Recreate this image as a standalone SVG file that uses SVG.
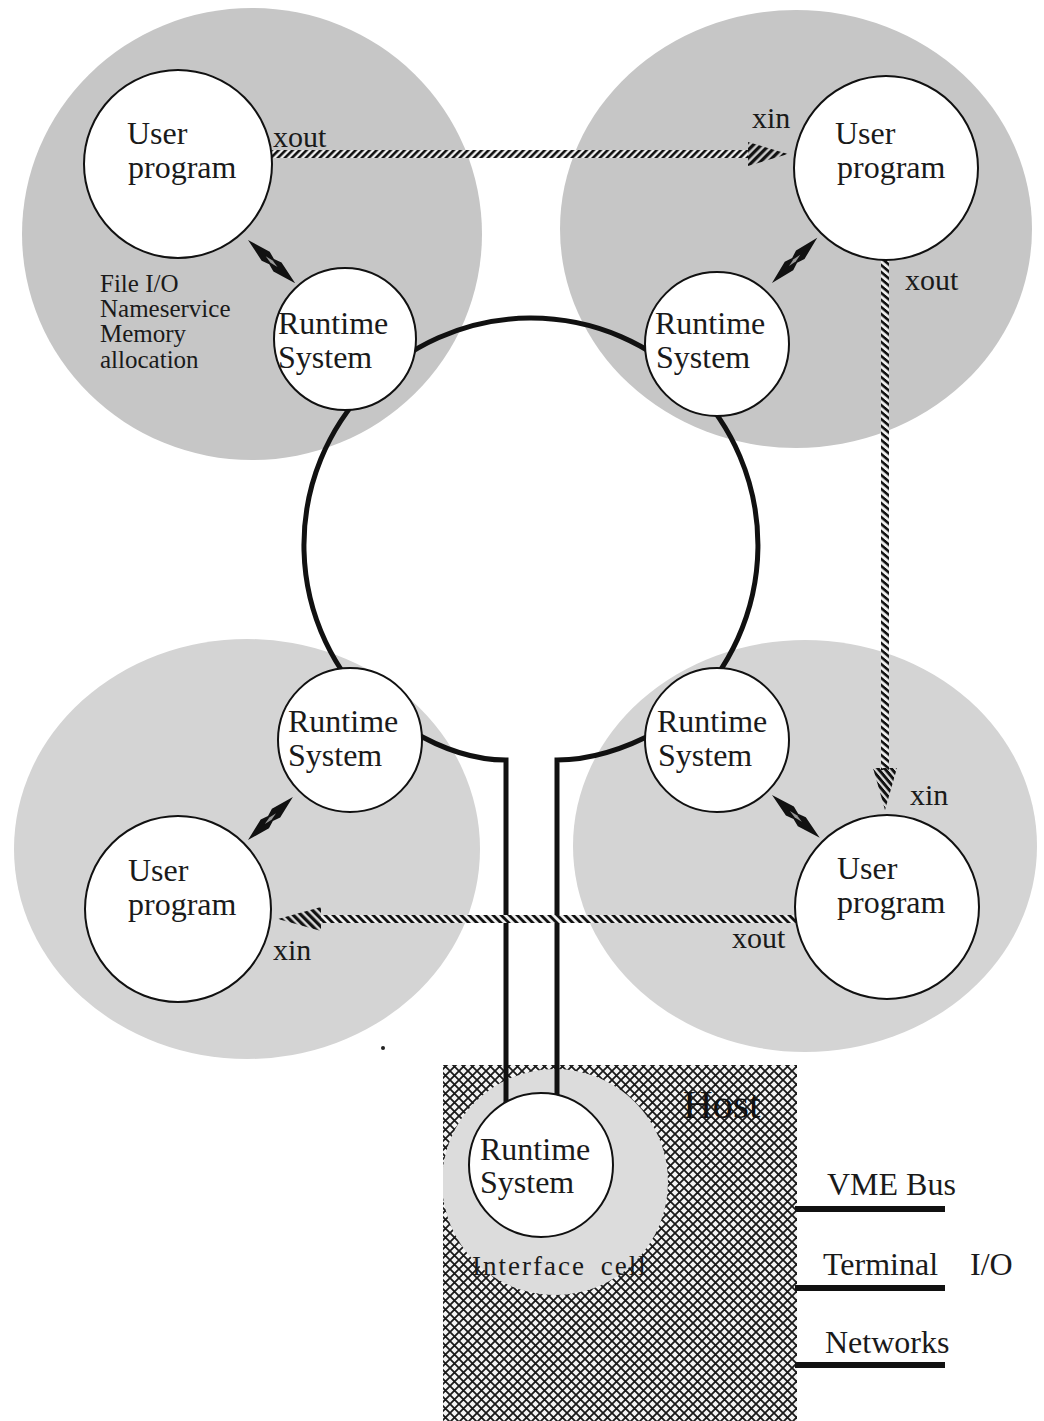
<svg xmlns="http://www.w3.org/2000/svg" xmlns:xlink="http://www.w3.org/1999/xlink" width="1044" height="1421" viewBox="0 0 1044 1421">
<style>
.lbl{font-family:"Liberation Serif","Times New Roman",serif;font-size:32px;fill:#1a1a1a}
.x{font-family:"Liberation Serif","Times New Roman",serif;font-size:30px;fill:#1a1a1a}
.sm{font-family:"Liberation Serif","Times New Roman",serif;font-size:25px;fill:#1a1a1a}
.node{fill:#fff;stroke:#111;stroke-width:2}
.wire{fill:none;stroke:#111;stroke-width:5}
.bus{stroke:#111;stroke-width:6}
</style>
<defs>
<pattern id="hf" width="7" height="10" patternUnits="userSpaceOnUse" patternTransform="skewX(-45)"><rect width="3.6" height="10" fill="#111"/></pattern>
<pattern id="hb" width="8" height="10" patternUnits="userSpaceOnUse" patternTransform="skewX(45)"><rect width="4" height="10" fill="#111"/></pattern>
<pattern id="hv" width="10" height="7" patternUnits="userSpaceOnUse" patternTransform="skewY(40)"><rect width="10" height="3.4" fill="#111"/></pattern>
<pattern id="hfa" width="8" height="10" patternUnits="userSpaceOnUse" patternTransform="skewX(-45)"><rect width="4.5" height="10" fill="#111"/></pattern>
<pattern id="hba" width="8" height="10" patternUnits="userSpaceOnUse" patternTransform="skewX(45)"><rect width="4.5" height="10" fill="#111"/></pattern>
<pattern id="hva" width="10" height="8" patternUnits="userSpaceOnUse" patternTransform="skewY(50)"><rect width="10" height="4.5" fill="#111"/></pattern>
<pattern id="xh" width="9" height="9" patternUnits="userSpaceOnUse"><rect width="9" height="9" fill="#f4f4f4"/><path d="M0,0 L9,9 M9,0 L0,9" stroke="#1a1a1a" stroke-width="1.8"/></pattern>
<clipPath id="hostclip"><rect x="443" y="1065" width="354" height="356"/></clipPath>
<g id="dbl"><path d="M0,0 L24,-6 L32,-3.5 L40,-6 L64,0 L40,6 L32,3.5 L24,6 Z" fill="#111"/><path d="M24,0 L32,-1.6 L40,0 L32,1.6 Z" fill="#999"/></g>
</defs>

<g id="cells">
<ellipse id="cell-tl" cx="252" cy="234" rx="230" ry="226" fill="#c6c6c6"/>
<ellipse id="cell-tr" cx="796" cy="229" rx="236" ry="219" fill="#c6c6c6"/>
<ellipse id="cell-bl" cx="247" cy="849" rx="233" ry="210" fill="#d4d4d4"/>
<ellipse id="cell-br" cx="805" cy="846" rx="232" ry="206" fill="#d4d4d4"/>
</g>

<g id="host">
<rect x="443" y="1065" width="354" height="356" fill="url(#xh)"/>
<circle cx="555" cy="1182" r="113" fill="#dcdcdc" clip-path="url(#hostclip)"/>
<text x="683" y="1118" font-family="Liberation Serif, Times New Roman, serif" font-size="41" fill="#111">Host</text>
<text x="472" y="1275" font-family="Liberation Serif, Times New Roman, serif" font-size="27" letter-spacing="2" word-spacing="6" fill="#1a1a1a">Interface cell</text>
</g>

<g id="connectors">
<path class="wire" d="M 688 709 A 227 227 0 1 0 376 711"/>
<path class="wire" d="M 410 730 Q 460 760 506 760 L 506 1110"/>
<path class="wire" d="M 660 730 Q 605 760 557 760 L 557 1110"/>
<line class="bus" x1="795" y1="1209" x2="945" y2="1209"/>
<line class="bus" x1="795" y1="1288" x2="945" y2="1288"/>
<line class="bus" x1="795" y1="1365" x2="945" y2="1365"/>
<rect x="272" y="150" width="476" height="8" fill="#eee"/>
<rect x="272" y="150" width="476" height="8" fill="url(#hf)"/>
<polygon points="748,142 788,154 748,166" fill="url(#hfa)"/>
<rect x="881" y="258" width="8" height="512" fill="#eee"/>
<rect x="881" y="258" width="8" height="512" fill="url(#hv)"/>
<polygon points="873,768 897,768 885,810" fill="url(#hva)"/>
<rect x="320" y="915" width="478" height="8" fill="#eee"/>
<rect x="320" y="915" width="478" height="8" fill="url(#hb)"/>
<polygon points="321,907 321,931 278,919" fill="url(#hba)"/>
<use xlink:href="#dbl" transform="translate(248,240) rotate(42.5)"/>
<use xlink:href="#dbl" transform="translate(772,283) rotate(-45)"/>
<use xlink:href="#dbl" transform="translate(248,840) rotate(-43.7) scale(0.97,1)"/>
<use xlink:href="#dbl" transform="translate(772,795) rotate(41.8)"/>
</g>

<g id="up-tl"><circle class="node" cx="178" cy="164" r="94"/><text class="lbl" x="127" y="144">User</text><text class="lbl" x="128" y="178">program</text></g>
<g id="up-tr"><circle class="node" cx="886" cy="168" r="92"/><text class="lbl" x="835" y="144">User</text><text class="lbl" x="837" y="178">program</text></g>
<g id="up-bl"><circle class="node" cx="178" cy="909" r="93"/><text class="lbl" x="128" y="881">User</text><text class="lbl" x="128" y="915">program</text></g>
<g id="up-br"><circle class="node" cx="887" cy="907" r="92"/><text class="lbl" x="837" y="879">User</text><text class="lbl" x="837" y="913">program</text></g>

<g id="rs-tl"><circle class="node" cx="345" cy="339" r="71"/><text class="lbl" x="278" y="334">Runtime</text><text class="lbl" x="278" y="368">System</text></g>
<g id="rs-tr"><circle class="node" cx="717" cy="344" r="72"/><text class="lbl" x="655" y="334">Runtime</text><text class="lbl" x="656" y="368">System</text></g>
<g id="rs-bl"><circle class="node" cx="350" cy="740" r="72"/><text class="lbl" x="288" y="732">Runtime</text><text class="lbl" x="288" y="766">System</text></g>
<g id="rs-br"><circle class="node" cx="717" cy="740" r="72"/><text class="lbl" x="657" y="732">Runtime</text><text class="lbl" x="658" y="766">System</text></g>
<g id="rs-host"><circle class="node" cx="541" cy="1165" r="72"/><text class="lbl" x="480" y="1160">Runtime</text><text class="lbl" x="480" y="1193">System</text></g>

<g id="labels">
<text class="x" x="273" y="147">xout</text>
<text class="x" x="752" y="128">xin</text>
<text class="x" x="905" y="290">xout</text>
<text class="x" x="910" y="805">xin</text>
<text class="x" x="732" y="948">xout</text>
<text class="x" x="273" y="960">xin</text>
<text class="sm" x="100" y="292">File I/O</text>
<text class="sm" x="100" y="317">Nameservice</text>
<text class="sm" x="100" y="342">Memory</text>
<text class="sm" x="100" y="368">allocation</text>
<text class="lbl" x="827" y="1195">VME Bus</text>
<text class="lbl" x="823" y="1275">Terminal</text>
<text class="lbl" x="970" y="1275">I/O</text>
<text class="lbl" x="825" y="1353">Networks</text>
</g>
<circle cx="383" cy="1048" r="2" fill="#222"/>
</svg>
